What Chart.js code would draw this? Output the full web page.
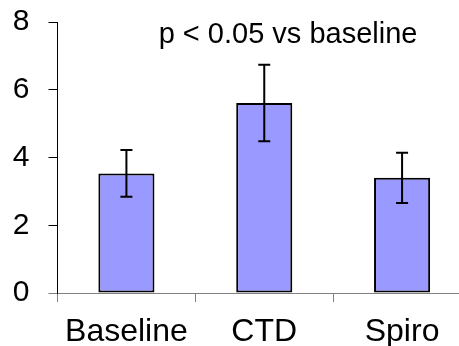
<!DOCTYPE html>
<html>
<head>
<meta charset="utf-8">
<script src="https://cdn.jsdelivr.net/npm/chart.js@4"></script>
<style>
  html, body { margin: 0; padding: 0; overflow: hidden; background: #fff; }
  #chart { display: block; }
</style>
</head>
<body>
<canvas id="chart" width="472" height="346" style="width:472px;height:346px"></canvas>
<script>
const categories = ["Baseline", "CTD", "Spiro"];
const means = [3.53, 5.61, 3.40];
const errors = [0.69, 1.13, 0.74];
const yTicks = [0, 2, 4, 6, 8];
const note = "p < 0.05 vs baseline";

const FONT = "'Liberation Sans', Arial, sans-serif";

// error bars on top of each bar
const errorBars = {
  id: "errorBars",
  afterDatasetsDraw(chart) {
    const ctx = chart.ctx;
    const y = chart.scales.y;
    const meta = chart.getDatasetMeta(0);
    ctx.save();
    ctx.strokeStyle = "#000";
    ctx.lineWidth = 2;
    meta.data.forEach((bar, i) => {
      const top = y.getPixelForValue(means[i] + errors[i]);
      const bot = y.getPixelForValue(means[i] - errors[i]);
      ctx.beginPath();
      ctx.moveTo(bar.x, top);
      ctx.lineTo(bar.x, bot);
      ctx.moveTo(bar.x - 6, top);
      ctx.lineTo(bar.x + 6, top);
      ctx.moveTo(bar.x - 6, bot);
      ctx.lineTo(bar.x + 6, bot);
      ctx.stroke();
    });
    ctx.restore();
  }
};

// significance note inside the plot
const noteText = {
  id: "noteText",
  afterDraw(chart) {
    const ctx = chart.ctx;
    const a = chart.chartArea;
    ctx.save();
    ctx.font = "29px " + FONT;
    ctx.fillStyle = "#000";
    ctx.textAlign = "center";
    ctx.textBaseline = "middle";
    ctx.fillText(note, a.left + (a.right - a.left) * 0.5576, a.top + 13);
    ctx.restore();
  }
};

new Chart(document.getElementById("chart"), {
  type: "bar",
  data: {
    labels: categories,
    datasets: [{
      data: means,
      backgroundColor: "#9999FF",
      borderColor: "#000",
      borderWidth: 2,
      borderSkipped: false,
      barPercentage: 0.407,
      categoryPercentage: 1.0
    }]
  },
  options: {
    responsive: false,
    animation: false,
    devicePixelRatio: 1,
    layout: { padding: { left: 13, right: 1, top: 22, bottom: 0 } },
    plugins: {
      legend: { display: false },
      tooltip: { enabled: false },
      title: { display: false }
    },
    scales: {
      x: {
        afterFit(scale) { scale.height = 53; },
        grid: {
          drawOnChartArea: false,
          tickLength: 9,
          color: "#808080",
          offset: true
        },
        border: { color: "#808080", width: 1 },
        ticks: {
          color: "#000",
          padding: 11,
          font: { family: FONT, size: 32 }
        }
      },
      y: {
        min: 0,
        max: 8,
        afterBuildTicks(scale) {
          scale.ticks = yTicks.map(v => ({ value: v }));
        },
        afterFit(scale) {
          scale.width = 44.5;
          scale.paddingTop = 0;
          scale.paddingBottom = 0;
        },
        grid: {
          drawOnChartArea: false,
          tickLength: 9,
          color: ctx => ctx.tick && ctx.tick.value === 0 ? "#808080" : "#000"
        },
        border: { color: "#000", width: 1 },
        ticks: {
          color: "#000",
          padding: 19,
          font: { family: FONT, size: 30 }
        }
      }
    }
  },
  plugins: [errorBars, noteText]
});
</script>
</body>
</html>
